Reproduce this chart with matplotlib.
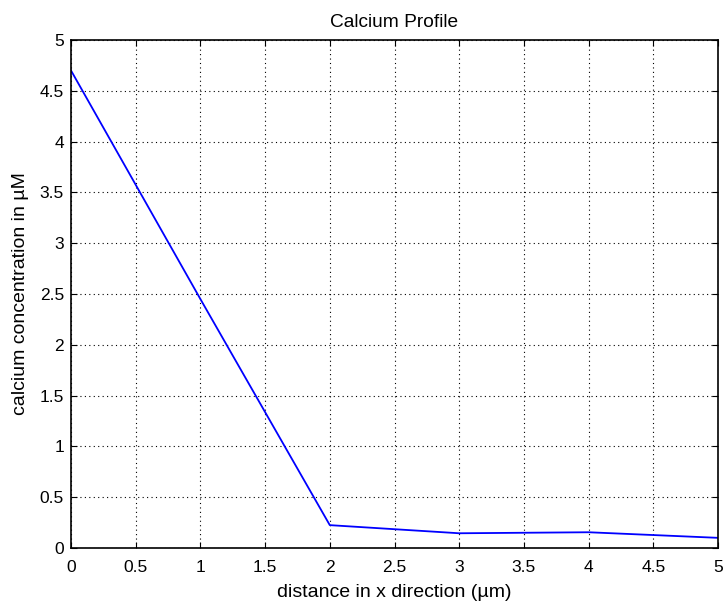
import matplotlib
matplotlib.use("Agg")
import matplotlib.pyplot as plt

x_um = [0, 1, 2, 3, 4, 5]
calcium_uM = [4.70, 2.45, 0.225, 0.145, 0.155, 0.10]
x_ticks = [0, 0.5, 1, 1.5, 2, 2.5, 3, 3.5, 4, 4.5, 5]
y_ticks = [0, 0.5, 1, 1.5, 2, 2.5, 3, 3.5, 4, 4.5, 5]
x_ticklabels = ["0", "0.5", "1", "1.5", "2", "2.5", "3", "3.5", "4", "4.5", "5"]
y_ticklabels = ["0", "0.5", "1", "1.5", "2", "2.5", "3", "3.5", "4", "4.5", "5"]

plt.rcParams['font.family'] = ['Liberation Sans', 'DejaVu Sans']
fig = plt.figure(figsize=(7.23, 6.01), dpi=100)
ax_left, ax_right, ax_top, ax_bottom = 71, 718, 40, 548
ax = fig.add_axes([ax_left/723, (601-ax_bottom)/601, (ax_right-ax_left)/723, (ax_bottom-ax_top)/601])
ax.plot(x_um, calcium_uM, color='#0000ff', linewidth=1.3)
ax.set_xlim(0, 5)
ax.set_ylim(0, 5)
ax.set_xticks(x_ticks)
ax.set_xticklabels(x_ticklabels)
ax.set_yticks(y_ticks)
ax.set_yticklabels(y_ticklabels)
ax.grid(True, color='black', linestyle=(0, (1, 3)), linewidth=0.8)
ax.tick_params(direction='in', top=True, right=True, labelsize=12.5, length=4)
ax.tick_params(axis='x', pad=8.5)
ax.tick_params(axis='y', pad=5)
for s in ax.spines.values():
    s.set_linewidth(1.2)

W = ax_right - ax_left
H = ax_bottom - ax_top
ax.set_xlabel('distance in x direction (µm)', fontsize=14)
ax.xaxis.label.set_verticalalignment('baseline')
ax.xaxis.set_label_coords(0.5, (ax_bottom - 597) / H)
ax.set_ylabel('calcium concentration in µM', fontsize=14,
              rotation_mode='anchor', ha='center', va='baseline')
ax.yaxis.set_label_coords((25 - ax_left) / W, 0.5)
ax.set_title('Calcium Profile', fontsize=13.8, y=(ax_bottom - 27) / H, pad=0,
             verticalalignment='baseline')
fig.savefig('out.png', dpi=100)
